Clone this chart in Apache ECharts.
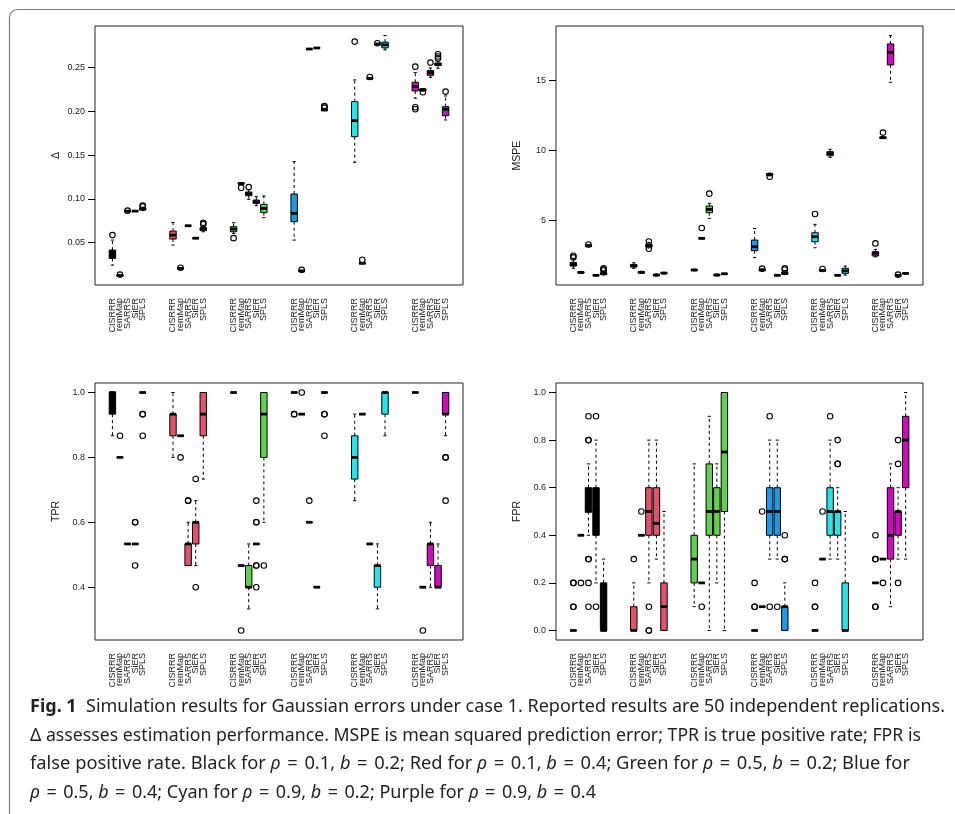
<!DOCTYPE html>
<html style="height: 100%">
  <head>
    <meta charset="utf-8" />
  </head>
  <body style="height: 100%; margin: 0; background: #fff">
    <div id="container" style="width: 955px; height: 814px"></div>
    <script src="https://cdn.jsdelivr.net/npm/echarts@6/dist/echarts.min.js"></script>
    <script>
      var methods = ['CISRRR', 'remMap', 'SARRS', 'SiER', 'SPLS'];
      // R 4.x palette: black, red, green, blue, cyan, purple
      var colors = ['#000000', '#DF536B', '#61D04F', '#2297E6', '#28E2E5', '#CD0BBC'];

      // each box: [min, q1, median, q3, max], 6 settings x 5 methods
      var deltaBoxes = [
        [0.0244, 0.0321, 0.037, 0.0416, 0.053], [0.0115, 0.012, 0.0125, 0.0129, 0.0134],
        [0.0852, 0.0857, 0.0861, 0.0864, 0.0868], [0.0858, 0.086, 0.0861, 0.0862, 0.0864],
        [0.0868, 0.0875, 0.0885, 0.0895, 0.0905],
        [0.0473, 0.0542, 0.0587, 0.0633, 0.0732], [0.0202, 0.0204, 0.0206, 0.0208, 0.021],
        [0.0692, 0.0693, 0.0694, 0.0695, 0.0697], [0.0549, 0.055, 0.0551, 0.0552, 0.0553],
        [0.0625, 0.0638, 0.0656, 0.0672, 0.0685],
        [0.0606, 0.0625, 0.0656, 0.0683, 0.0728], [0.1165, 0.1172, 0.1176, 0.118, 0.1185],
        [0.0995, 0.1037, 0.106, 0.1079, 0.1105], [0.0923, 0.0949, 0.0968, 0.0987, 0.1026],
        [0.0786, 0.0843, 0.0892, 0.0938, 0.1033],
        [0.053, 0.074, 0.0835, 0.1056, 0.1426], [0.0172, 0.0175, 0.0178, 0.018, 0.0183],
        [0.2708, 0.271, 0.2712, 0.2714, 0.2716], [0.272, 0.2722, 0.2724, 0.2726, 0.2728],
        [0.2008, 0.2012, 0.2016, 0.202, 0.2026],
        [0.1418, 0.1711, 0.1894, 0.2111, 0.2359], [0.0258, 0.0262, 0.0265, 0.0268, 0.0272],
        [0.2368, 0.2373, 0.2377, 0.2381, 0.2386], [0.2762, 0.2766, 0.2769, 0.2772, 0.2776],
        [0.2702, 0.2725, 0.2759, 0.279, 0.2866],
        [0.215, 0.2233, 0.2283, 0.2332, 0.2443], [0.2232, 0.2237, 0.2247, 0.2256, 0.226],
        [0.2389, 0.2412, 0.2443, 0.2466, 0.2495], [0.2492, 0.2523, 0.2535, 0.2553, 0.2572],
        [0.1902, 0.1951, 0.2024, 0.2054, 0.2176]
      ];
      // outliers: [box number, value]
      var deltaOut = [
        [0, 0.0587], [1, 0.0136], [2, 0.0866], [4, 0.0925], [4, 0.0915],
        [6, 0.0214], [9, 0.0728], [9, 0.0712],
        [10, 0.0552], [11, 0.1128], [12, 0.1135],
        [16, 0.019], [19, 0.2062], [19, 0.2052], [19, 0.2042],
        [20, 0.2797], [21, 0.0305], [22, 0.2392], [23, 0.2778],
        [25, 0.2511], [25, 0.2047], [25, 0.2024], [26, 0.2218], [27, 0.2557],
        [28, 0.2652], [28, 0.2626], [28, 0.2605], [29, 0.2226]
      ];

      var mspeBoxes = [
        [1.6, 1.76, 1.9, 2.02, 2.24], [1.24, 1.28, 1.31, 1.34, 1.38], [3.15, 3.18, 3.21, 3.24, 3.27],
        [1.07, 1.09, 1.1, 1.11, 1.13], [1.12, 1.17, 1.22, 1.28, 1.36],
        [1.6, 1.69, 1.79, 1.88, 2.0], [1.24, 1.28, 1.31, 1.35, 1.39], [3.05, 3.12, 3.22, 3.31, 3.45],
        [1.05, 1.08, 1.12, 1.15, 1.2], [1.2, 1.23, 1.26, 1.28, 1.31],
        [1.42, 1.45, 1.48, 1.51, 1.54], [3.7, 3.72, 3.74, 3.76, 3.78], [5.17, 5.57, 5.81, 6.05, 6.24],
        [1.05, 1.09, 1.12, 1.15, 1.2], [1.17, 1.19, 1.21, 1.23, 1.25],
        [2.36, 2.86, 3.14, 3.62, 4.45], [1.4, 1.44, 1.48, 1.52, 1.56], [8.2, 8.25, 8.3, 8.35, 8.4],
        [1.08, 1.09, 1.1, 1.11, 1.12], [1.15, 1.19, 1.24, 1.31, 1.4],
        [3.07, 3.5, 3.86, 4.14, 4.74], [1.39, 1.42, 1.45, 1.48, 1.51], [9.52, 9.64, 9.79, 9.93, 10.1],
        [1.08, 1.09, 1.1, 1.11, 1.12], [1.12, 1.24, 1.42, 1.6, 1.76],
        [2.42, 2.48, 2.67, 2.79, 2.95], [10.86, 10.88, 10.93, 10.97, 11.0], [14.88, 16.12, 17.02, 17.62, 18.21],
        [1.05, 1.08, 1.1, 1.12, 1.15], [1.2, 1.22, 1.24, 1.26, 1.28]
      ];
      var mspeOut = [
        [0, 2.5], [0, 2.38], [2, 3.3], [4, 1.6], [4, 1.52], [4, 1.45],
        [7, 3.52], [7, 3.0],
        [11, 4.48], [12, 6.93],
        [16, 1.58], [17, 8.14], [19, 1.6], [19, 1.5],
        [20, 5.48], [21, 1.55],
        [25, 3.38], [26, 11.29], [28, 1.15]
      ];

      var tprBoxes = [
        [0.8667, 0.9333, 1, 1, 1], [0.8, 0.8, 0.8, 0.8, 0.8], [0.5333, 0.5333, 0.5333, 0.5333, 0.5333],
        [0.5333, 0.5333, 0.5333, 0.5333, 0.5333], [1, 1, 1, 1, 1],
        [0.8, 0.8667, 0.9333, 0.9333, 1], [0.8667, 0.8667, 0.8667, 0.8667, 0.8667],
        [0.4667, 0.4667, 0.5333, 0.5333, 0.6], [0.4667, 0.5333, 0.6, 0.6, 0.6667],
        [0.7333, 0.8667, 0.9333, 1, 1],
        [1, 1, 1, 1, 1], [0.4667, 0.4667, 0.4667, 0.4667, 0.4667], [0.3333, 0.4, 0.4, 0.4667, 0.5333],
        [0.5333, 0.5333, 0.5333, 0.5333, 0.5333], [0.6, 0.8, 0.9333, 1, 1],
        [1, 1, 1, 1, 1], [0.9333, 0.9333, 0.9333, 0.9333, 0.9333], [0.6, 0.6, 0.6, 0.6, 0.6],
        [0.4, 0.4, 0.4, 0.4, 0.4], [1, 1, 1, 1, 1],
        [0.6667, 0.7333, 0.8, 0.8667, 0.9333], [0.9333, 0.9333, 0.9333, 0.9333, 0.9333],
        [0.5333, 0.5333, 0.5333, 0.5333, 0.5333], [0.3333, 0.4, 0.4667, 0.4667, 0.5333],
        [0.8667, 0.9333, 1, 1, 1],
        [1, 1, 1, 1, 1], [0.4, 0.4, 0.4, 0.4, 0.4], [0.4, 0.4667, 0.5333, 0.5333, 0.6],
        [0.4, 0.4, 0.4, 0.4667, 0.5333], [0.8667, 0.9333, 0.9333, 1, 1]
      ];
      var tprOut = [
        [1, 0.8667], [3, 0.6], [3, 0.6], [3, 0.4667], [4, 0.9333], [4, 0.9333], [4, 0.8667],
        [6, 0.8], [7, 0.6667], [7, 0.6667], [8, 0.7333], [8, 0.4],
        [11, 0.2667], [13, 0.6667], [13, 0.6], [13, 0.6], [13, 0.4667], [13, 0.4667], [13, 0.4], [14, 0.4667],
        [15, 0.9333], [15, 0.9333], [16, 1], [17, 0.6667], [19, 0.9333], [19, 0.9333], [19, 0.8667],
        [26, 0.2667], [29, 0.8], [29, 0.8], [29, 0.6667]
      ];

      var fprBoxes = [
        [0, 0, 0, 0, 0], [0.4, 0.4, 0.4, 0.4, 0.4], [0.4, 0.5, 0.5, 0.6, 0.7],
        [0.2, 0.4, 0.5, 0.6, 0.8], [0, 0, 0, 0.2, 0.3],
        [0, 0, 0, 0.1, 0.2], [0.4, 0.4, 0.4, 0.4, 0.4], [0.2, 0.4, 0.5, 0.6, 0.8],
        [0.3, 0.4, 0.45, 0.6, 0.8], [0, 0, 0.1, 0.2, 0.5],
        [0.1, 0.2, 0.3, 0.4, 0.7], [0.2, 0.2, 0.2, 0.2, 0.2], [0, 0.4, 0.5, 0.7, 0.9],
        [0.2, 0.4, 0.5, 0.6, 0.7], [0, 0.5, 0.75, 1, 1],
        [0, 0, 0, 0, 0], [0.1, 0.1, 0.1, 0.1, 0.1], [0.3, 0.4, 0.5, 0.6, 0.8],
        [0.3, 0.4, 0.5, 0.6, 0.8], [0, 0, 0.1, 0.1, 0.2],
        [0, 0, 0, 0, 0], [0.3, 0.3, 0.3, 0.3, 0.3], [0.3, 0.4, 0.5, 0.6, 0.8],
        [0.3, 0.4, 0.5, 0.5, 0.6], [0, 0, 0, 0.2, 0.5],
        [0.2, 0.2, 0.2, 0.2, 0.2], [0.3, 0.3, 0.3, 0.3, 0.3], [0.1, 0.3, 0.4, 0.6, 0.7],
        [0.3, 0.4, 0.5, 0.5, 0.6], [0.3, 0.6, 0.8, 0.9, 1.0]
      ];
      var fprOut = [
        [0, 0.1], [0, 0.1], [0, 0.2], [0, 0.2], [1, 0.2],
        [2, 0.8], [2, 0.8], [2, 0.9], [2, 0.3], [2, 0.3], [2, 0.2], [2, 0.1], [3, 0.9], [3, 0.1],
        [5, 0.3], [6, 0.5], [7, 0.1], [7, 0], [7, 0],
        [11, 0.1],
        [15, 0.1], [15, 0.1], [15, 0.2], [16, 0.5], [17, 0.9], [17, 0.1], [18, 0.1],
        [19, 0.3], [19, 0.3], [19, 0.4],
        [20, 0.1], [20, 0.1], [20, 0.2], [21, 0.5], [22, 0.9], [23, 0.7], [23, 0.7], [23, 0.8],
        [25, 0.3], [25, 0.3], [25, 0.4], [25, 0.1], [25, 0.1], [26, 0.2],
        [28, 0.7], [28, 0.8], [28, 0.2]
      ];

      var deltaTicks = [0.05, 0.1, 0.15, 0.2, 0.25];
      var mspeTicks = [5, 10, 15];
      var tprTicks = [0.4, 0.6, 0.8, 1.0];
      var fprTicks = [0, 0.2, 0.4, 0.6, 0.8, 1.0];

      var captionLines = [
        '{b|Fig. 1}  Simulation results for Gaussian errors under case 1. Reported results are 50 independent replications.',
        'Δ assesses estimation performance. MSPE is mean squared prediction error; TPR is true positive rate; FPR is',
        'false positive rate. Black for {i|ρ} = 0.1, {i|b} = 0.2; Red for {i|ρ} = 0.1, {i|b} = 0.4; Green for {i|ρ} = 0.5, {i|b} = 0.2; Blue for',
        '{i|ρ} = 0.5, {i|b} = 0.4; Cyan for {i|ρ} = 0.9, {i|b} = 0.2; Purple for {i|ρ} = 0.9, {i|b} = 0.4'
      ];
      var captionWidths = [915, 891, 880, 566];

      // x slots: 5 methods then a 3-slot gap between settings
      var xCats = [];
      for (var g = 0; g < 6; g++) {
        for (var m = 0; m < 5; m++) xCats.push(methods[m]);
        if (g < 5) xCats.push('', '', '');
      }
      function slot(b) {
        return Math.floor(b / 5) * 8 + (b % 5);
      }

      var panels = [
        { name: 'Δ', boxes: deltaBoxes, out: deltaOut, ticks: deltaTicks, dec: 2, min: 0.0017, max: 0.2975,
          left: 95, top: 26, width: 368, height: 259 },
        { name: 'MSPE', boxes: mspeBoxes, out: mspeOut, ticks: mspeTicks, dec: 0, min: 0.41, max: 18.9,
          left: 556, top: 26, width: 367, height: 259 },
        { name: 'TPR', boxes: tprBoxes, out: tprOut, ticks: tprTicks, dec: 1, min: 0.2373, max: 1.0293,
          left: 95, top: 383, width: 368, height: 257 },
        { name: 'FPR', boxes: fprBoxes, out: fprOut, ticks: fprTicks, dec: 1, min: -0.04, max: 1.04,
          left: 556, top: 383, width: 367, height: 257 }
      ];

      function renderBox(params, api) {
        var x = api.value(0);
        var col = colors[api.value(6)];
        var pMin = api.coord([x, api.value(1)]);
        var pQ1 = api.coord([x, api.value(2)]);
        var pMed = api.coord([x, api.value(3)]);
        var pQ3 = api.coord([x, api.value(4)]);
        var pMax = api.coord([x, api.value(5)]);
        var bw = api.size([1, 0])[0] * 0.85;
        var cx = pMed[0];
        var dash = { stroke: '#000', lineWidth: 1, lineDash: [3, 3] };
        var solid = { stroke: '#000', lineWidth: 1 };
        return {
          type: 'group',
          children: [
            { type: 'line', shape: { x1: cx, y1: pQ3[1], x2: cx, y2: pMax[1] }, style: dash },
            { type: 'line', shape: { x1: cx, y1: pQ1[1], x2: cx, y2: pMin[1] }, style: dash },
            { type: 'line', shape: { x1: cx - bw / 4, y1: pMax[1], x2: cx + bw / 4, y2: pMax[1] }, style: solid },
            { type: 'line', shape: { x1: cx - bw / 4, y1: pMin[1], x2: cx + bw / 4, y2: pMin[1] }, style: solid },
            { type: 'rect', shape: { x: cx - bw / 2, y: pQ3[1], width: bw, height: pQ1[1] - pQ3[1] },
              style: { fill: col, stroke: '#000', lineWidth: 1 } },
            { type: 'line', shape: { x1: cx - bw / 2, y1: pMed[1], x2: cx + bw / 2, y2: pMed[1] },
              style: { stroke: '#000', lineWidth: 2.8 } }
          ]
        };
      }

      var grids = [], xAxes = [], yAxes = [], series = [];
      var tickFont = { fontFamily: 'Liberation Sans', fontSize: 9, color: '#222' };
      panels.forEach(function (p, i) {
        var sp = p.width / 48.6;
        // frame grid with the y axis
        grids.push({ left: p.left, top: p.top, width: p.width, height: p.height, show: true,
          borderColor: '#222', borderWidth: 1, backgroundColor: 'transparent' });
        // slot grid holding the boxes
        grids.push({ left: p.left + 1.8 * sp, top: p.top, width: 45 * sp, height: p.height });
        xAxes.push({ gridIndex: 2 * i, type: 'value', min: 0, max: 1, show: false });
        xAxes.push({
          gridIndex: 2 * i + 1, type: 'category', data: xCats,
          axisLine: { show: false },
          axisTick: { alignWithLabel: true, length: 7, lineStyle: { color: '#000' },
            interval: function (idx, val) { return val !== ''; } },
          axisLabel: Object.assign({ interval: 0, rotate: 90, margin: 13 }, tickFont),
          splitLine: { show: false }
        });
        yAxes.push({
          gridIndex: 2 * i, type: 'value', min: p.min, max: p.max,
          name: p.name, nameLocation: 'middle', nameGap: 33,
          nameTextStyle: { fontFamily: 'Liberation Sans', fontSize: 10.5, color: '#222' },
          axisLine: { show: false },
          axisTick: { length: 7, customValues: p.ticks, lineStyle: { color: '#000' } },
          axisLabel: Object.assign({ customValues: p.ticks, margin: 10,
            formatter: function (v) { return (+v).toFixed(p.dec); } }, tickFont),
          splitLine: { show: false }
        });
        yAxes.push({ gridIndex: 2 * i + 1, type: 'value', min: p.min, max: p.max, show: false });

        series.push({
          type: 'custom', xAxisIndex: 2 * i + 1, yAxisIndex: 2 * i + 1,
          renderItem: renderBox, silent: true, animation: false,
          encode: { x: 0, y: [1, 2, 3, 4, 5] },
          data: p.boxes.map(function (d, b) {
            return [slot(b)].concat(d).concat([Math.floor(b / 5)]);
          })
        });
        series.push({
          type: 'scatter', xAxisIndex: 2 * i + 1, yAxisIndex: 2 * i + 1,
          symbol: 'circle', symbolSize: 5.5, silent: true, animation: false,
          itemStyle: { color: 'rgba(0,0,0,0)', borderColor: '#000', borderWidth: 1.1, opacity: 1 },
          data: p.out.map(function (o) { return [slot(o[0]), o[1]]; })
        });
      });

      // caption: condensed look via horizontal scaling, one scale per line
      var capFont = 'Noto Sans';
      var capSize = 17.5;
      var ctx = document.createElement('canvas').getContext('2d');
      function lineWidth(t) {
        var w = 0;
        t.split(/(\{\w+\|[^}]*\})/).forEach(function (part) {
          var mt = part.match(/^\{(\w+)\|([^}]*)\}$/);
          var pre = '';
          if (mt) {
            pre = mt[1] === 'b' ? 'bold ' : 'italic ';
            part = mt[2];
          }
          ctx.font = pre + capSize + 'px "' + capFont + '"';
          w += ctx.measureText(part).width;
        });
        return w;
      }
      var capY = [707, 736, 764, 793];
      var graphics = [
        { type: 'rect', shape: { x: 9.5, y: 9.5, width: 1000, height: 900, r: 8 }, silent: true,
          style: { fill: 'none', stroke: '#7a7a7a', lineWidth: 1.2 } }
      ];
      captionLines.forEach(function (t, k) {
        // wider spacing around "=" as in typeset math
        t = t.replace(/ = /g, ' \u200A=\u200A ');
        graphics.push({
          type: 'text', x: 30, y: capY[k], scaleX: captionWidths[k] / lineWidth(t), originX: 0, silent: true,
          style: {
            text: t, fontFamily: capFont, fontSize: capSize, fill: '#231f20', verticalAlign: 'middle',
            rich: {
              b: { fontFamily: capFont, fontSize: capSize, fontWeight: 'bold', fill: '#231f20' },
              i: { fontFamily: capFont, fontSize: capSize, fontStyle: 'italic', fill: '#231f20' }
            }
          }
        });
      });

      var myChart = echarts.init(document.getElementById('container'), null, { renderer: 'canvas' });
      var option = {
        backgroundColor: '#fff',
        animation: false,
        grid: grids,
        xAxis: xAxes,
        yAxis: yAxes,
        series: series,
        graphic: graphics
      };
      myChart.setOption(option);
    </script>
  </body>
</html>
